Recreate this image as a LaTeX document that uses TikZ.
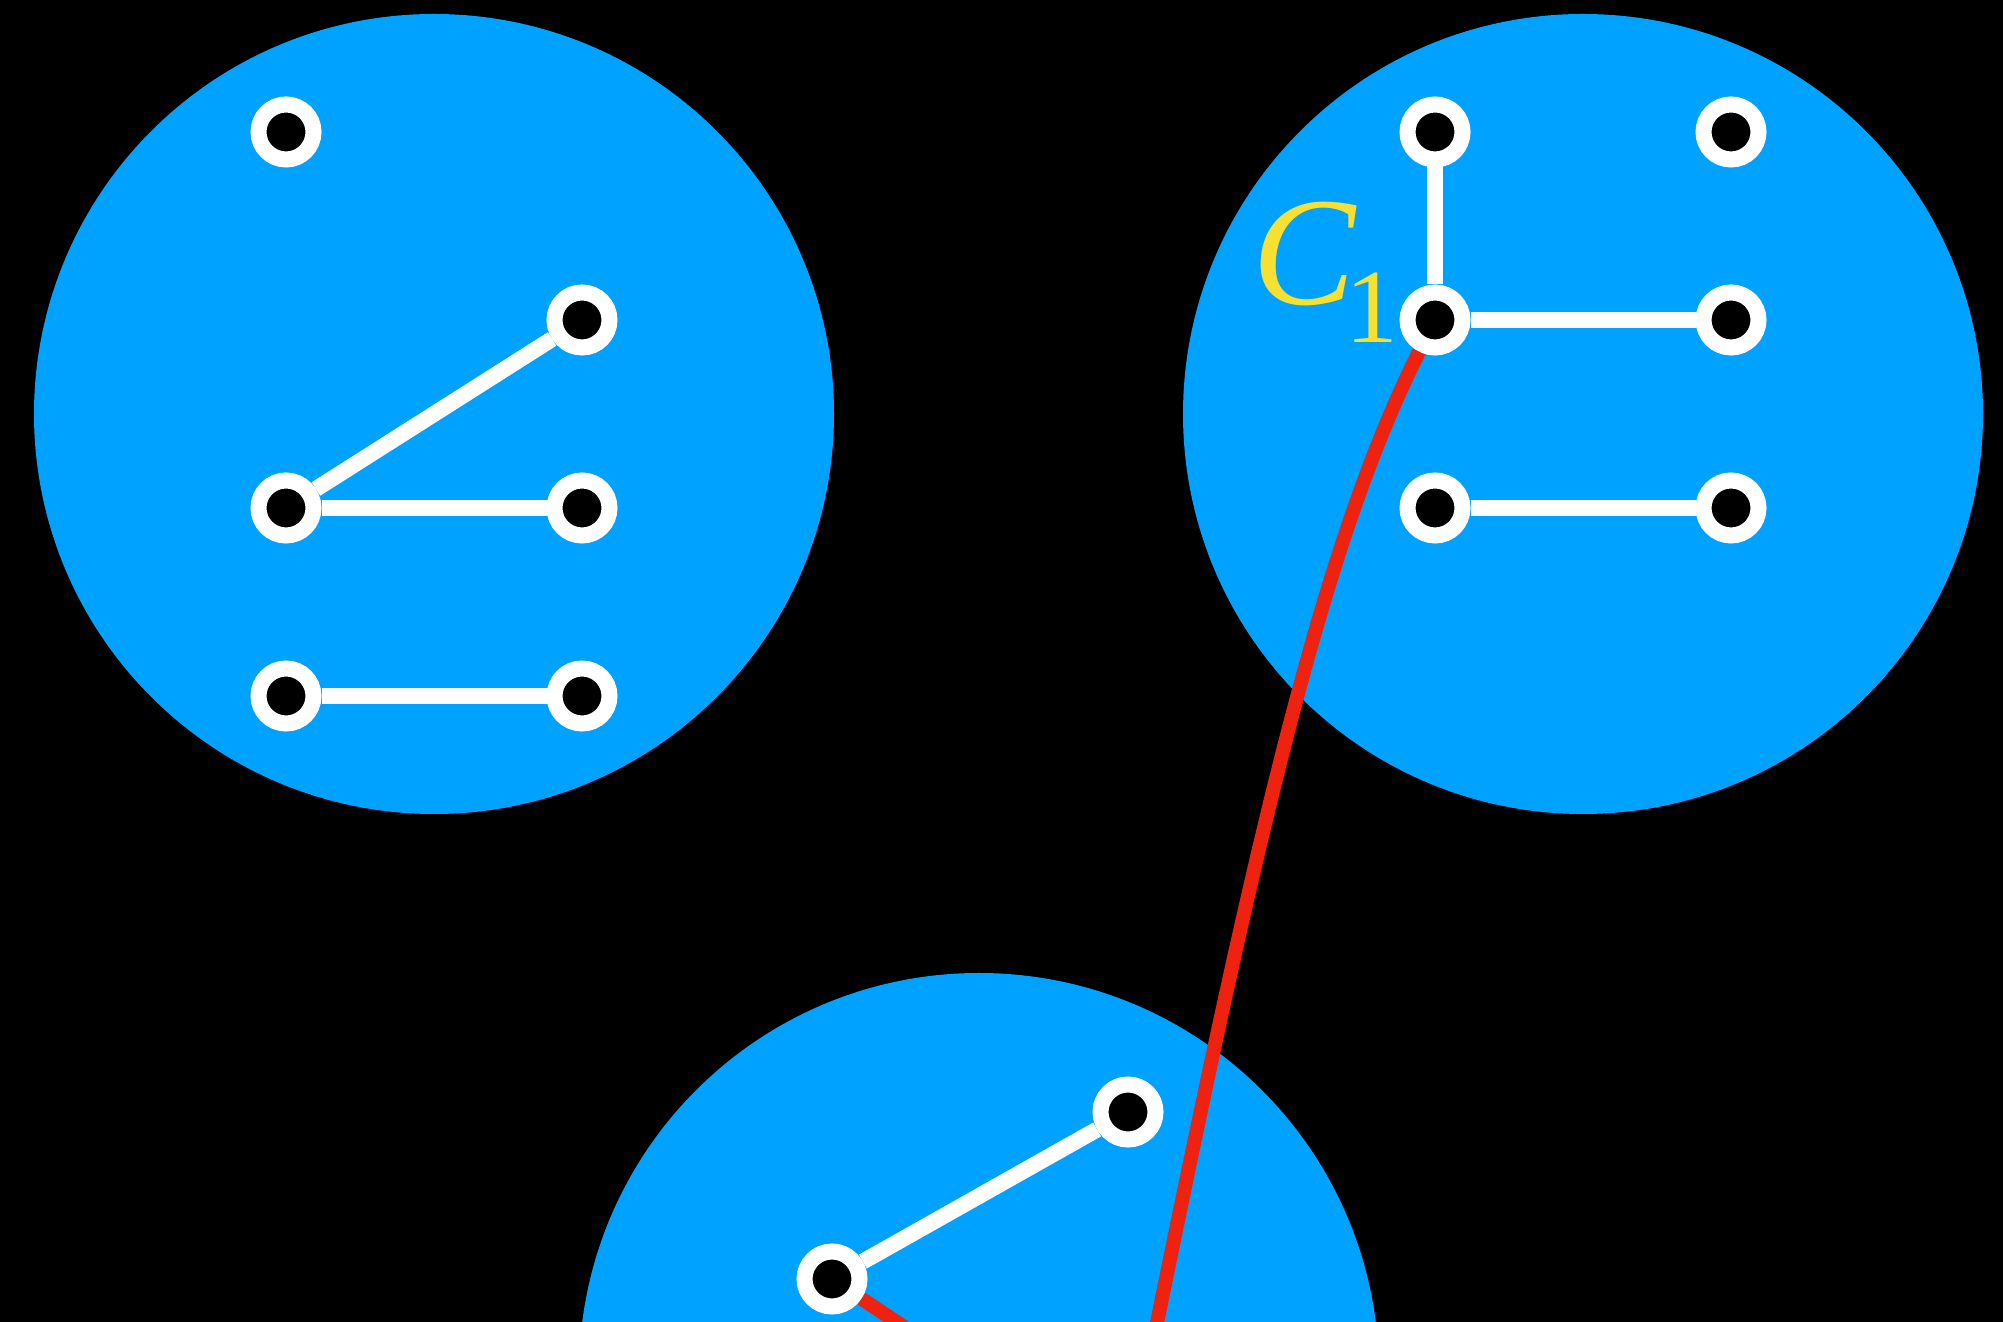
\documentclass[tikz,border=0pt]{standalone}
\usepackage{fontspec}
\setmainfont{Liberation Serif}
\definecolor{diskblue}{RGB}{0,162,255}
\definecolor{cutred}{RGB}{238,34,14}
\definecolor{labelyellow}{RGB}{248,224,50}
\begin{document}
\begin{tikzpicture}[
    vtx/.style={circle, fill=black, draw=white, line width=0.16cm, minimum size=0.55cm, inner sep=0pt},
    bond/.style={draw=white, line width=0.16cm},
    cutline/.style={draw=cutred, line width=0.14cm},
    disk/.style={fill=diskblue}]
    \useasboundingbox (0,0) rectangle (20.03,13.22);
    \clip (0,0) rectangle (20.03,13.22);
    \fill[black] (0,0) rectangle (20.03,13.22);

    % Disk 1
    \begin{scope}[shift={(4.34,9.08)}]
        \fill[disk] (0,0) circle (4);
        \node[vtx] (a1) at (-1.48, 2.82) {};
        \node[vtx] (a2) at (1.48, 0.94) {};
        \node[vtx] (a3) at (-1.48, -0.94) {}; \node[vtx] (a4) at (1.48, -0.94) {};
        \node[vtx] (a5) at (-1.48, -2.82) {}; \node[vtx] (a6) at (1.48, -2.82) {};
        \draw[bond] (a3) -- (a2); \draw[bond] (a3) -- (a4); \draw[bond] (a5) -- (a6);
    \end{scope}

    % Disk 2
    \begin{scope}[shift={(15.83,9.08)}]
        \fill[disk] (0,0) circle (4);
        \node[vtx] (b1) at (-1.48, 2.82) {}; \node[vtx] (b2) at (1.48, 2.82) {};
        \node[vtx] (b3) at (-1.48, 0.94) {}; \node[vtx] (b4) at (1.48, 0.94) {};
        \node[vtx] (b5) at (-1.48, -0.94) {}; \node[vtx] (b6) at (1.48, -0.94) {};
        \draw[bond] (b1) -- (b3); \draw[bond] (b3) -- (b4); \draw[bond] (b5) -- (b6);
    \end{scope}

    % Disk 3
    \begin{scope}[shift={(9.79,-0.51)}]
        \fill[disk] (0,0) circle (4);
        \node[vtx] (c1) at (-1.47, 0.94) {};
        \node[vtx] (c2) at (1.49, 2.61) {};
        \draw[bond] (c1) -- (c2);
    \end{scope}

    % cut edges
    \coordinate (out1) at (11.37,-1);
    \coordinate (out2) at (9.82,-0.57);
    \draw[cutline] (b3) .. controls (13.23,7.79) and (12.55,4.88) .. (out1);
    \draw[cutline] (c1) -- (out2);

    \node[labelyellow, anchor=base west, inner sep=0pt, font=\fontsize{44}{44}\selectfont] (lab) at (12.52,10.17)
        {\textit{C}\kern-0.12cm\raisebox{-0.38cm}{\fontsize{30}{30}\selectfont 1}};
\end{tikzpicture}
\end{document}
